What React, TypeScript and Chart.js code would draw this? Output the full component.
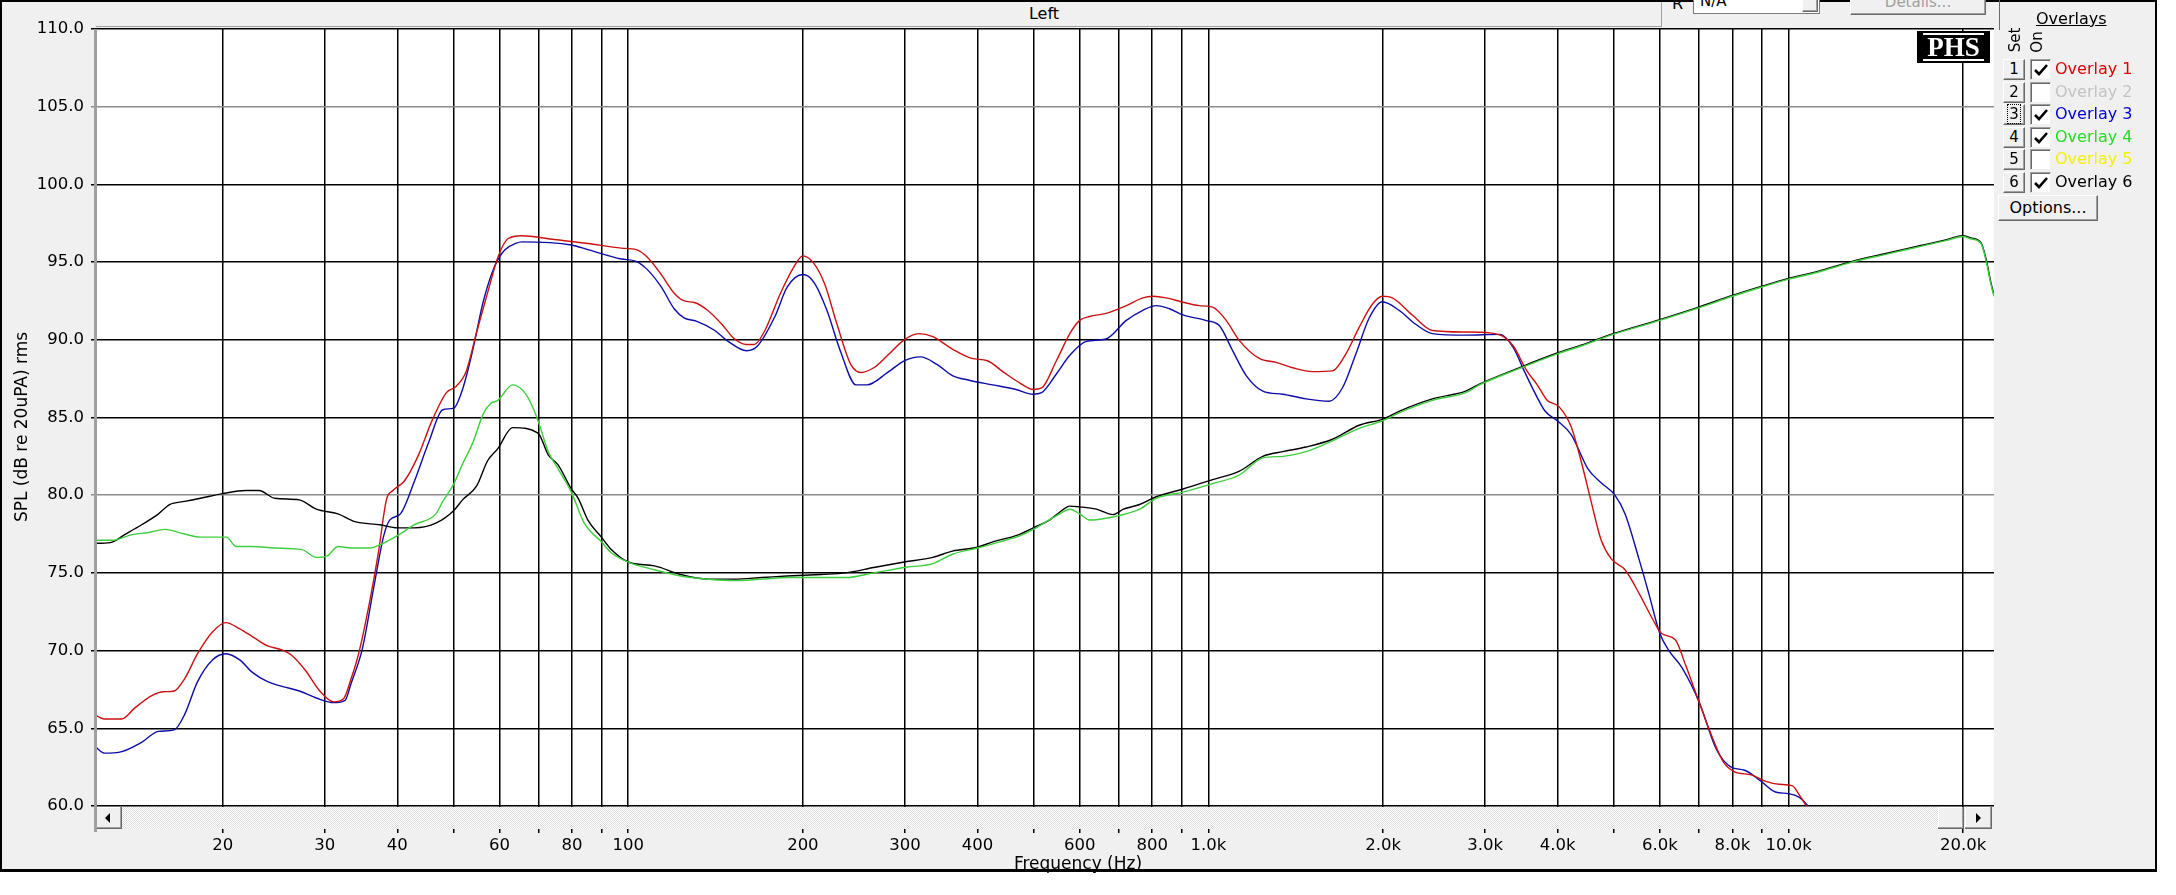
import { useEffect, useRef } from "react";
import { Chart, registerables } from "chart.js";

Chart.register(...registerables);

// ---------- data ----------
const xMin = 12;
const xMax = 22600;
const yTickValues = [60, 65, 70, 75, 80, 85, 90, 95, 100, 105, 110];
const xTickValues = [20, 30, 40, 50, 60, 70, 80, 90, 100, 200, 300, 400, 500, 600, 700, 800, 900, 1000, 2000, 3000, 4000, 5000, 6000, 7000, 8000, 9000, 10000, 20000];
const xTickLabels = ["20", "30", "40", "", "60", "", "80", "", "100", "200", "300", "400", "", "600", "", "800", "", "1.0k", "2.0k", "3.0k", "4.0k", "", "6.0k", "", "8.0k", "", "10.0k", "20.0k"];

const overlay1: [number, number][] = [
  [12, 65.9], [12.5, 65.6], [13.4, 65.6], [14.1, 66.3], [15.1, 67.1], [15.8, 67.35], [16.5, 67.4], [17.2, 68.2],
  [18.1, 69.8], [19.2, 71.2], [20.25, 71.8], [21.4, 71.4], [22.5, 70.9], [23.9, 70.3], [25.3, 70.05], [26.3, 69.7],
  [27.8, 68.7], [29.4, 67.4], [31.1, 66.7], [32.3, 66.9], [33.3, 68.2], [34.3, 69.8], [35.9, 73.3], [37.1, 76.3],
  [38.3, 79.7], [39.3, 80.3], [41.1, 80.9], [43.4, 82.5], [45.9, 84.8], [48.6, 86.6], [50.5, 87.0], [52.6, 88.0],
  [54.8, 90.5], [57.2, 93.0], [59.6, 95.3], [62, 96.5], [65.5, 96.7], [74.6, 96.45], [85.2, 96.2], [97.3, 95.9],
  [103.2, 95.8], [108, 95.3], [114, 94.2], [120, 93.0], [125, 92.5], [130, 92.4], [137, 91.9], [145, 91.0],
  [152, 90.1], [160, 89.7], [165, 89.7], [172, 90.6], [183, 93.0], [193, 94.7], [200, 95.4], [209, 94.9],
  [218, 93.6], [229, 91.0], [242, 88.4], [252, 87.9], [265, 88.2], [280, 89.0], [299, 90.0], [317, 90.4],
  [335, 90.2], [362, 89.4], [391, 88.8], [416, 88.65], [444, 87.9], [474, 87.2], [499, 86.8], [516, 86.9],
  [547, 88.65], [577, 90.4], [600, 91.25], [624, 91.5], [666, 91.7], [722, 92.2], [771, 92.7], [802, 92.8],
  [846, 92.7], [897, 92.45], [965, 92.2], [1017, 92.1], [1073, 91.25], [1131, 89.95], [1224, 88.8], [1308, 88.55],
  [1397, 88.2], [1512, 87.95], [1636, 88.0], [1726, 89.1], [1819, 90.8], [1918, 92.3], [1994, 92.8], [2075, 92.7],
  [2246, 91.6], [2433, 90.6], [2776, 90.5], [3044, 90.45], [3227, 90.2], [3354, 89.6], [3540, 88.0], [3688, 87.1],
  [3839, 86.1], [4020, 85.7], [4220, 84.4], [4389, 82.2], [4567, 79.6], [4754, 77.1], [4948, 75.9], [5225, 75.2],
  [5522, 73.7], [5836, 72.0], [6042, 71.1], [6380, 70.7], [6640, 69.1], [7010, 66.7], [7410, 64.3], [7730, 62.8],
  [8070, 62.2], [8630, 62.0], [9110, 61.6], [9620, 61.4], [10160, 61.3], [10440, 60.7], [10730, 60.0], [11000, 59.3],
];

const overlay3: [number, number][] = [
  [12, 63.9], [12.5, 63.4], [13.4, 63.5], [14.5, 64.1], [15.5, 64.8], [16.5, 64.9], [17.2, 65.9], [18.1, 68.0],
  [19.2, 69.4], [20.25, 69.8], [21.4, 69.4], [22.5, 68.6], [23.9, 68.0], [25.3, 67.7], [27.1, 67.4], [29.0, 66.95],
  [31.1, 66.65], [32.5, 66.8], [33.3, 67.9], [34.8, 70.1], [36.4, 74.0], [37.9, 77.4], [38.8, 78.4], [40.5, 78.8],
  [42.8, 80.9], [45.3, 83.4], [47.9, 85.5], [50, 85.6], [51.8, 86.8], [54, 89.4], [56.2, 92.4], [58.8, 94.7],
  [61.3, 95.8], [64, 96.2], [65.5, 96.3], [79.8, 96.1], [85.2, 95.8], [97.3, 95.2], [103.2, 95.05], [108, 94.5],
  [114, 93.4], [120, 92.0], [125, 91.4], [131, 91.2], [141, 90.6], [148, 89.95], [160, 89.3], [167, 89.6],
  [179, 91.5], [188, 93.4], [200, 94.2], [209, 93.7], [220, 91.9], [232, 89.3], [247, 87.1], [258, 87.1],
  [280, 87.9], [299, 88.65], [319, 88.9], [341, 88.4], [362, 87.7], [387, 87.4], [425, 87.1], [466, 86.8],
  [499, 86.5], [516, 86.6], [547, 87.8], [577, 89.0], [616, 89.9], [666, 90.05], [722, 91.25], [771, 91.9],
  [813, 92.2], [857, 92.0], [904, 91.6], [989, 91.25], [1045, 90.9], [1101, 89.3], [1162, 87.7], [1241, 86.7],
  [1343, 86.5], [1473, 86.2], [1615, 86.05], [1702, 86.9], [1796, 89.1], [1893, 91.4], [1994, 92.45], [2131, 91.9],
  [2277, 91.0], [2433, 90.4], [2776, 90.3], [3183, 90.35], [3354, 89.5], [3502, 88.0], [3652, 86.6], [3807, 85.4],
  [3993, 84.8], [4220, 83.9], [4510, 81.7], [4754, 80.8], [5020, 80.0], [5225, 78.8], [5522, 75.9], [5740, 73.7],
  [6000, 71.1], [6220, 70.0], [6550, 68.9], [7010, 66.7], [7520, 63.6], [7960, 62.5], [8400, 62.3], [8960, 61.6],
  [9490, 60.9], [10000, 60.8], [10440, 60.55], [10800, 60.0], [11100, 59.3],
];

const overlay4: [number, number][] = [
  [12, 77.1], [12.9, 77.1], [13.9, 77.45], [14.9, 77.6], [15.9, 77.8], [17.2, 77.5], [18.3, 77.3], [20.3, 77.3],
  [21.1, 76.7], [22.5, 76.7], [24.6, 76.6], [27.4, 76.5], [29, 76.0], [30.3, 76.1], [31.6, 76.7], [33.3, 76.6],
  [35.9, 76.6], [37.3, 76.8], [40.0, 77.4], [42.8, 78.1], [46.6, 78.8], [47.9, 79.6], [50, 80.7], [51.8, 82.0],
  [54, 83.4], [56.2, 85.2], [57.9, 85.9], [59.6, 86.1], [63.2, 87.1], [66.6, 86.5], [69.6, 85.0], [72.8, 82.8],
  [75.7, 81.7], [79.8, 80.2], [84, 78.2], [89.9, 77.0], [93.5, 76.3], [100, 75.7], [111, 75.2], [123, 74.8],
  [137, 74.6], [152, 74.5], [170, 74.6], [188, 74.7], [215, 74.7], [237, 74.7], [265, 75.0], [299, 75.35],
  [335, 75.6], [362, 76.2], [400, 76.6], [437, 77.0], [474, 77.4], [499, 77.8], [554, 78.8], [577, 79.1],
  [600, 78.8], [624, 78.4], [685, 78.6], [761, 79.1], [813, 79.8], [904, 80.2], [1017, 80.75], [1131, 81.3],
  [1241, 82.4], [1343, 82.5], [1473, 82.8], [1636, 83.5], [1819, 84.3], [2000, 84.8], [2131, 85.3], [2433, 86.1],
  [2776, 86.6], [2932, 87.1], [3354, 88.0], [3993, 89.1], [4389, 89.6], [4987, 90.35], [6000, 91.25], [7000, 92.05],
  [8000, 92.8], [9000, 93.4], [10000, 93.9], [11230, 94.35], [12870, 95.0], [14710, 95.5], [16830, 96.0], [18740, 96.4],
  [20000, 96.65], [20600, 96.5], [21460, 96.2], [21900, 95.1], [22320, 93.6], [22600, 92.8],
];

const overlay6: [number, number][] = [
  [12, 76.9], [12.8, 76.95], [13.6, 77.5], [14.5, 78.1], [15.5, 78.8], [16.2, 79.4], [17.2, 79.6], [18.3, 79.8],
  [20.0, 80.1], [21.9, 80.3], [23.1, 80.3], [24.6, 79.8], [27.1, 79.7], [29.0, 79.1], [31.6, 78.8], [33.8, 78.3],
  [37.3, 78.1], [40.0, 77.9], [42.8, 77.9], [46.6, 78.2], [50, 79.0], [51.8, 79.7], [54.8, 80.6], [57.2, 82.2],
  [59.6, 83.0], [63.2, 84.35], [69.9, 84.0], [72.8, 82.6], [75.7, 81.95], [79.8, 80.4], [82, 79.8], [85.2, 78.4],
  [89.9, 77.3], [93.5, 76.5], [100, 75.7], [111, 75.45], [123, 74.9], [137, 74.6], [152, 74.6], [170, 74.7],
  [188, 74.8], [215, 74.9], [237, 75.0], [265, 75.35], [299, 75.7], [335, 76.0], [362, 76.4], [400, 76.65],
  [425, 77.0], [466, 77.4], [499, 77.9], [532, 78.4], [554, 78.9], [577, 79.3], [600, 79.25], [641, 79.1],
  [685, 78.75], [714, 79.1], [761, 79.4], [813, 79.9], [904, 80.4], [1017, 81.0], [1131, 81.55], [1241, 82.5],
  [1343, 82.8], [1473, 83.1], [1636, 83.6], [1819, 84.5], [2000, 84.9], [2131, 85.4], [2433, 86.2], [2776, 86.7],
  [2932, 87.15], [3354, 88.05], [3993, 89.15], [4389, 89.65], [4987, 90.4], [6000, 91.3], [7000, 92.1], [8000, 92.85],
  [9000, 93.45], [10000, 93.95], [11230, 94.4], [12870, 95.05], [14710, 95.55], [16830, 96.05], [18740, 96.45], [20000, 96.7],
  [20600, 96.55], [21460, 96.25], [21900, 95.2], [22320, 93.7], [22600, 92.9],
];

const overlayRows = [
  { set: "1", label: "Overlay 1", color: "#e00000", on: true },
  { set: "2", label: "Overlay 2", color: "#c3c3c3", on: false },
  { set: "3", label: "Overlay 3", color: "#0000d8", on: true },
  { set: "4", label: "Overlay 4", color: "#22dd22", on: true },
  { set: "5", label: "Overlay 5", color: "#f2f200", on: false },
  { set: "6", label: "Overlay 6", color: "#000000", on: true },
];

const FONT = '"DejaVu Sans", "Liberation Sans", sans-serif';

const toXY = (pts: [number, number][]) => pts.map(([x, y]) => ({ x, y }));

function drawRaised(ctx: CanvasRenderingContext2D, x: number, y: number, w: number, h: number) {
  ctx.fillStyle = "#f0f0f0";
  ctx.fillRect(x, y, w, h);
  ctx.fillStyle = "#ffffff";
  ctx.fillRect(x, y, w, 1);
  ctx.fillRect(x, y, 1, h);
  ctx.fillStyle = "#a0a0a0";
  ctx.fillRect(x, y + h - 2, w, 1);
  ctx.fillRect(x + w - 2, y, 1, h);
  ctx.fillStyle = "#696969";
  ctx.fillRect(x, y + h - 1, w, 1);
  ctx.fillRect(x + w - 1, y, 1, h);
}

const chromePlugin = {
  id: "chrome",
  beforeDraw(chart: any) {
    const { ctx, chartArea: a } = chart;
    ctx.save();
    ctx.fillStyle = "#ffffff";
    ctx.fillRect(a.left, a.top, a.right - a.left, a.bottom - a.top);
    ctx.restore();
  },
  afterDraw(chart: any) {
    const { ctx, chartArea: a } = chart;
    ctx.save();
    const top = Math.round(a.bottom) + 1;
    const h = 22;
    // track with dither pattern
    const pc = document.createElement("canvas");
    pc.width = 2;
    pc.height = 2;
    const p = pc.getContext("2d")!;
    p.fillStyle = "#ffffff";
    p.fillRect(0, 0, 2, 2);
    p.fillStyle = "#dedede";
    p.fillRect(0, 0, 1, 1);
    p.fillRect(1, 1, 1, 1);
    const pat = ctx.createPattern(pc, "repeat");
    ctx.fillStyle = pat || "#eeeeee";
    ctx.fillRect(a.left + 2, top, a.right - a.left - 4, h);
    // left button
    drawRaised(ctx, a.left + 2, top, 26, h);
    ctx.fillStyle = "#000";
    ctx.beginPath();
    const lcx = a.left + 14, cy = top + h / 2;
    ctx.moveTo(lcx - 3, cy);
    ctx.lineTo(lcx + 2, cy - 5);
    ctx.lineTo(lcx + 2, cy + 5);
    ctx.closePath();
    ctx.fill();
    // thumb
    drawRaised(ctx, a.right - 56, top, 26, h);
    // right button
    drawRaised(ctx, a.right - 29, top, 27, h);
    ctx.fillStyle = "#000";
    ctx.beginPath();
    const rcx = a.right - 16;
    ctx.moveTo(rcx + 3, cy);
    ctx.lineTo(rcx - 2, cy - 5);
    ctx.lineTo(rcx - 2, cy + 5);
    ctx.closePath();
    ctx.fill();
    // left gray border of the plot
    ctx.fillStyle = "#a0a0a0";
    ctx.fillRect(a.left, a.top, 3, a.bottom - a.top + h + 4);
    ctx.restore();
  },
};

function Check() {
  return (
    <svg width="14" height="12" viewBox="0 0 14 12" style={{ position: "absolute", left: 3, top: 4 }}>
      <path d="M1 6 L5 10 L13 1" stroke="#000" strokeWidth="2.6" fill="none" />
    </svg>
  );
}

export default function App() {
  const ref = useRef<HTMLCanvasElement>(null);

  useEffect(() => {
    if (!ref.current) return;
    const common = { borderWidth: 1.4, pointRadius: 0, cubicInterpolationMode: "monotone" as const, fill: false };
    const chart = new Chart(ref.current, {
      type: "line",
      data: {
        datasets: [
          { ...common, label: "Overlay 4", data: toXY(overlay4), borderColor: "#3ccf3c", order: 0 },
          { ...common, label: "Overlay 6", data: toXY(overlay6), borderColor: "#000000", order: 1 },
          { ...common, label: "Overlay 1", data: toXY(overlay1), borderColor: "#cc1111", order: 2 },
          { ...common, label: "Overlay 3", data: toXY(overlay3), borderColor: "#0c0ca8", order: 3 },
        ],
      },
      options: {
        responsive: false,
        animation: false,
        devicePixelRatio: 1,
        layout: { padding: { left: 0, top: 29, right: 182, bottom: 0 }, autoPadding: false } as any,
        plugins: { legend: { display: false }, tooltip: { enabled: false }, title: { display: false } },
        scales: {
          x: {
            type: "logarithmic",
            min: xMin,
            max: xMax,
            afterBuildTicks: (s: any) => {
              s.ticks = xTickValues.map((v) => ({ value: v }));
            },
            afterFit: (s: any) => {
              s.height = 89;
            },
            ticks: {
              autoSkip: false,
              maxRotation: 0,
              minRotation: 0,
              padding: 3,
              color: "#000",
              font: { family: FONT, size: 16.5 },
              callback: (v: any) => {
                const i = xTickValues.indexOf(Number(v));
                return i >= 0 ? xTickLabels[i] : "";
              },
            },
            grid: { color: "#000", lineWidth: 1.5, tickLength: 27 },
            border: { display: false },
          },
          y: {
            type: "linear",
            min: 60,
            max: 110,
            afterBuildTicks: (s: any) => {
              s.ticks = yTickValues.map((v) => ({ value: v }));
            },
            afterFit: (s: any) => {
              s.width = 94;
            },
            ticks: {
              padding: 7,
              color: "#000",
              font: { family: FONT, size: 16.5 },
              callback: (v: any) => Number(v).toFixed(1),
            },
            grid: {
              color: (c: any) => (c.tick && (c.tick.value === 80 || c.tick.value === 105) ? "#8c8c8c" : "#000"),
              lineWidth: 1.5,
              tickLength: 3,
            },
            border: { display: false },
          },
        },
      },
      plugins: [chromePlugin],
    });
    return () => chart.destroy();
  }, []);

  const raised = {
    background: "#f0f0f0",
    borderStyle: "solid",
    borderWidth: 1,
    borderColor: "#ffffff #696969 #696969 #ffffff",
    boxShadow: "inset -1px -1px 0 #a0a0a0",
    boxSizing: "border-box" as const,
  };

  return (
    <div style={{ position: "fixed", left: 0, top: 0, width: 2176, height: 895, background: "#ffffff", overflow: "hidden", fontFamily: FONT }}>
      {/* window frame */}
      <div style={{ position: "absolute", left: 0, top: 0, width: 2153, height: 867, background: "#f0f0f0", borderStyle: "solid", borderColor: "#000", borderWidth: "2px 2px 3px 2px" }} />
      {/* title bar */}
      <div style={{ position: "absolute", left: 96, top: 2, width: 1565, height: 24, borderBottom: "1px solid #a0a0a0", borderRight: "1px solid #a0a0a0" }} />
      <div style={{ position: "absolute", left: 994, top: 4, width: 100, lineHeight: "20px", textAlign: "center", fontSize: 16, color: "#000" }}>Left</div>
      {/* clipped controls at top right */}
      <div style={{ position: "absolute", left: 1672, top: -6, fontSize: 16, lineHeight: "20px", color: "#000" }}>R</div>
      <div style={{ position: "absolute", left: 1693, top: -8, width: 127, height: 22, background: "#fff", border: "1px solid #7a7a7a", boxSizing: "border-box" }}>
        <div style={{ position: "absolute", left: 6, top: -2, fontSize: 15, lineHeight: "20px" }}>N/A</div>
        <div style={{ position: "absolute", right: 1, top: 0, width: 16, height: 19, ...raised }} />
      </div>
      <div style={{ position: "absolute", left: 1850, top: -10, width: 136, height: 25, ...raised, color: "#a0a0a0", fontSize: 15, textAlign: "center", lineHeight: "22px" }}>Details...</div>
      <div style={{ position: "absolute", left: 1999, top: 0, width: 1, height: 30, background: "#696969" }} />

      <canvas ref={ref} width={2176} height={895} style={{ position: "absolute", left: 0, top: 0, width: 2176, height: 895 }} />

      {/* axis titles */}
      <div style={{ position: "absolute", left: 21 - 130, top: 427 - 11, width: 260, height: 22, lineHeight: "22px", textAlign: "center", fontSize: 17, color: "#000", transform: "rotate(-90deg)", whiteSpace: "nowrap" }}>SPL (dB re 20uPA) rms</div>
      <div style={{ position: "absolute", left: 978, top: 852, width: 200, lineHeight: "22px", textAlign: "center", fontSize: 17, color: "#000", whiteSpace: "nowrap" }}>Frequency (Hz)</div>

      {/* PHS logo */}
      <div style={{ position: "absolute", left: 1917, top: 31, width: 73, height: 32, background: "#000" }}>
        <div style={{ position: "absolute", left: 6, top: 2, width: 61, height: 24, borderTop: "2px solid #fff", borderBottom: "2px solid #fff", color: "#fff", fontFamily: '"Liberation Serif", "DejaVu Serif", serif', fontWeight: "bold", fontSize: 27, lineHeight: "24px", textAlign: "center" }}>PHS</div>
      </div>

      {/* overlay panel */}
      <div style={{ position: "absolute", left: 2036, top: 8, fontSize: 16, lineHeight: "22px", textDecoration: "underline", color: "#000" }}>Overlays</div>
      <div style={{ position: "absolute", left: 2015 - 20, top: 40 - 10, width: 40, height: 20, lineHeight: "20px", textAlign: "center", fontSize: 15, transform: "rotate(-90deg)" }}>Set</div>
      <div style={{ position: "absolute", left: 2037 - 20, top: 42 - 10, width: 40, height: 20, lineHeight: "20px", textAlign: "center", fontSize: 15, transform: "rotate(-90deg)" }}>On</div>
      {overlayRows.map((r, i) => {
        const cy = 69 + i * 22.6;
        return (
          <div key={r.set}>
            <div style={{ position: "absolute", left: 2003, top: cy - 10, width: 22, height: 21, ...raised, fontSize: 15, lineHeight: "19px", textAlign: "center", color: "#000" }}>
              {r.set === "3" ? (
                <span style={{ outline: "1px dotted #000", padding: "0 1px" }}>{r.set}</span>
              ) : (
                r.set
              )}
            </div>
            <div style={{ position: "absolute", left: 2030, top: cy - 10, width: 21, height: 21, background: "#fff", boxSizing: "border-box", borderStyle: "solid", borderWidth: 1, borderColor: "#a0a0a0 #f0f0f0 #f0f0f0 #a0a0a0", boxShadow: "inset 1px 1px 0 #696969" }}>
              {r.on ? <Check /> : null}
            </div>
            <div style={{ position: "absolute", left: 2055, top: cy - 11, fontSize: 16, lineHeight: "22px", color: r.color, whiteSpace: "nowrap" }}>{r.label}</div>
          </div>
        );
      })}
      <div style={{ position: "absolute", left: 1998, top: 195, width: 100, height: 26, ...raised, fontSize: 16, lineHeight: "23px", textAlign: "center", color: "#000" }}>Options...</div>
    </div>
  );
}
